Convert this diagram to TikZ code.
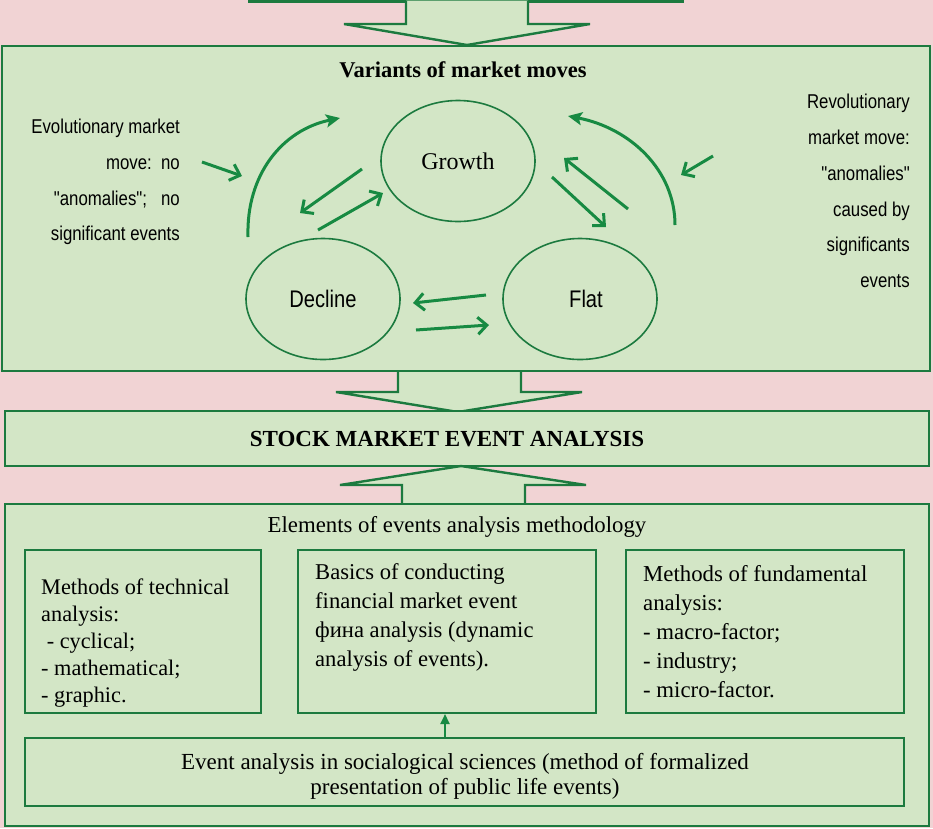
\documentclass[tikz,border=0pt]{standalone}
\usepackage{fontspec}
\setmainfont{Liberation Serif}
\newfontfamily\narrow{Liberation Sans}[FakeStretch=0.84]
\usetikzlibrary{arrows.meta,shapes.geometric}
\definecolor{bgpink}{HTML}{F1D3D4}
\definecolor{boxfill}{HTML}{D3E6C6}
\definecolor{boxline}{HTML}{1C7A3F}
\definecolor{arrgreen}{HTML}{178A42}
\tikzset{
  panel/.style={draw=boxline, fill=boxfill, line width=2.6pt, rectangle, inner sep=0pt},
  inner/.style={draw=boxline, fill=boxfill, line width=2pt, rectangle, inner sep=0pt},
  blockarrow/.style={draw=boxline, fill=boxfill, line width=2.4pt, line join=miter},
  oval/.style={ellipse, draw=boxline, line width=1.6pt, minimum width=154pt, minimum height=121pt, inner sep=0pt},
  barb/.style={draw=arrgreen, line width=3pt, -{Straight Barb[length=9pt,width=17pt,line width=3pt]}},
  arc/.style={draw=arrgreen, line width=3pt, -{Stealth[length=14pt,width=13pt,inset=3pt]}},
  sanstext/.style={font=\narrow\fontsize{20}{35.7}\selectfont, align=right, inner sep=0pt},
  serifbody/.style={font=\fontsize{22.3}{27}\selectfont, inner sep=0pt},
}
\begin{document}
\begin{tikzpicture}[x=1pt,y=-1pt]
\useasboundingbox (0,0) rectangle (933,828);
\fill[bgpink] (0,0) rectangle (933,828);

% top cut-off bar and arrow
\draw[panel] (249,-10) rectangle (683,1.5);
\draw[blockarrow] (406,0.5) -- (406,24) -- (344,24) -- (467,45) -- (590,24) -- (528,24) -- (528,0.5);

% top panel
\node[panel, minimum width=928pt, minimum height=325pt] (top) at (466,208.5) {};
\node[font=\bfseries\fontsize{22.5}{26}\selectfont, inner sep=0pt] (title) at (463,70) {Variants of market moves};

\node[oval, font=\fontsize{24}{28}\selectfont] (growth) at (458,161) {Growth};
\node[oval, font=\narrow\fontsize{24}{28}\selectfont] (decline) at (323,299) {Decline};
\node[oval, font=\narrow\fontsize{24}{28}\selectfont] (flat) at (580,299) {\hspace{12pt}Flat};

\node[sanstext, anchor=east] (evol) at (180,182) {Evolutionary market\\move:\ \ no\\"anomalies";\ \ \ no\\significant events};
\node[sanstext, anchor=east] (revol) at (910,191) {Revolutionary\\market move:\\"anomalies"\\caused by\\significants\\events};

% arrows among the ovals
\coordinate (e1) at (202,162); \coordinate (e2) at (242,176);
\coordinate (r1) at (713,156); \coordinate (r2) at (681,175);
\coordinate (gd1) at (362,169); \coordinate (gd2) at (300,213);
\coordinate (dg1) at (318,230); \coordinate (dg2) at (383,193);
\coordinate (fd1) at (486,295); \coordinate (fd2) at (413,303);
\coordinate (df1) at (416,330); \coordinate (df2) at (489,325);
\coordinate (fg1) at (628,209); \coordinate (fg2) at (564,158);
\coordinate (gf1) at (552,177); \coordinate (gf2) at (606,227);
\coordinate (la1) at (248,237); \coordinate (la2) at (340,118);
\coordinate (ra1) at (675,225); \coordinate (ra2) at (568,116);

\draw[barb] (e1) -- (e2);
\draw[barb] (r1) -- (r2);
\draw[barb] (gd1) -- (gd2);
\draw[barb] (dg1) -- (dg2);
\draw[barb] (fd1) -- (fd2);
\draw[barb] (df1) -- (df2);
\draw[barb] (fg1) -- (fg2);
\draw[barb] (gf1) -- (gf2);
\draw[arc] (la1) .. controls (246,175) and (282,130) .. (la2);
\draw[arc] (ra1) .. controls (675,170) and (630,128) .. (ra2);

% middle arrow
\draw[blockarrow] (398,372) -- (398,392) -- (336,392) -- (458,412) -- (582,392) -- (521,392) -- (521,372);

% stock box
\node[panel, minimum width=924pt, minimum height=55pt] (stock) at (467,438.5) {};
\node[font=\bfseries\fontsize{23}{26}\selectfont, inner sep=0pt] (stocktxt) at (447,439) {STOCK MARKET EVENT ANALYSIS};
\draw[blockarrow] (402,503) -- (402,485) -- (340,485) -- (461,466) -- (586,485) -- (525,485) -- (525,503);

% bottom panel
\node[panel, minimum width=924pt, minimum height=322pt] (bottom) at (467,665) {};
\node[font=\fontsize{22.8}{26}\selectfont, inner sep=0pt] (elements) at (457,527) {Elements of events analysis methodology};

\node[inner, minimum width=236pt, minimum height=163pt] (tech) at (143,631.5) {};
\node[inner, minimum width=298pt, minimum height=163pt] (basics) at (447,631.5) {};
\node[inner, minimum width=278pt, minimum height=163pt] (fund) at (765,631.5) {};
\node[inner, minimum width=879pt, minimum height=68pt] (socio) at (464.5,772) {};

\node[serifbody, align=left, anchor=west] (techtxt) at (41,643) {Methods of technical\\analysis:\\\ - cyclical;\\- mathematical;\\- graphic.};
\node[font=\fontsize{22.6}{29}\selectfont, inner sep=0pt, align=left, anchor=west] (basicstxt) at (315,617) {Basics of conducting\\financial market event\\фина analysis (dynamic\\analysis of events).};
\node[font=\fontsize{22.8}{29}\selectfont, inner sep=0pt, align=left, anchor=west] (fundtxt) at (643,632) {Methods of fundamental\\analysis:\\- macro-factor;\\- industry;\\- micro-factor.};
\node[font=\fontsize{23}{25}\selectfont, inner sep=0pt, align=center] (sociotxt) at (465,776) {Event analysis in socialogical sciences (method of formalized\\presentation of public life events)};

\draw[draw=arrgreen, line width=2.2pt, -{Triangle[length=10pt,width=9pt]}] (socio.north -| 445,0) -- (basics.south -| 445,0);
\end{tikzpicture}
\end{document}
